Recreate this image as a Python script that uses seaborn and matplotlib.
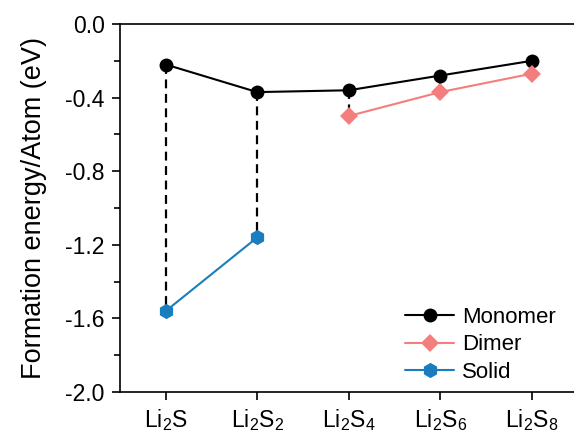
import numpy as np
import pandas as pd
import matplotlib
matplotlib.use('Agg')
import matplotlib.pyplot as plt
import seaborn as sns

# 数据
categories = ['Li2S', 'Li2S2', 'Li2S4', 'Li2S6', 'Li2S8']
tick_labels = [r'Li$_2$S', r'Li$_2$S$_2$', r'Li$_2$S$_4$', r'Li$_2$S$_6$', r'Li$_2$S$_8$']
y_ticks = [-2.0, -1.6, -1.2, -0.8, -0.4, 0.0]
monomer = [-0.22, -0.37, -0.36, -0.28, -0.20]
dimer = [np.nan, np.nan, -0.50, -0.37, -0.27]
solid = [-1.56, -1.16, np.nan, np.nan, np.nan]

sns.set_style("ticks", {'axes.edgecolor': 'black', 'xtick.color': 'black',
                        'ytick.color': 'black', 'text.color': 'black',
                        'axes.labelcolor': 'black'})
plt.rcParams['font.family'] = ['Liberation Sans', 'DejaVu Sans']
plt.rcParams['mathtext.default'] = 'regular'

pos = np.arange(len(categories))
df = pd.DataFrame({'x': pos, 'Monomer': monomer, 'Dimer': dimer, 'Solid': solid})

fig = plt.figure(figsize=(5.74, 4.37), dpi=100)
ax = fig.add_axes([0.209, 0.103, 0.797, 0.842])

# 虚线连接
for i in range(len(categories)):
    other = solid[i] if not np.isnan(solid[i]) else dimer[i]
    if not np.isnan(other):
        ax.plot([pos[i], pos[i]], [monomer[i], other], color='black',
                linestyle=(0, (4, 2.5)), linewidth=1.6, zorder=1)

styles = {
    'Monomer': dict(color='black', marker='o', markersize=10),
    'Dimer': dict(color='#F47E7E', marker='D', markersize=9.5),
    'Solid': dict(color='#1A7DBE', marker='h', markersize=11),
}
for name in ['Monomer', 'Dimer', 'Solid']:
    d = df[['x', name]].dropna()
    sns.lineplot(x='x', y=name, data=d, ax=ax, label=name, linewidth=1.5,
                 markeredgewidth=0, zorder=3, **styles[name])

ax.set_xlim(-0.5, 4.5)
ax.set_ylim(-2.0, 0.0)
ax.set_xticks(pos)
ax.set_xticklabels(tick_labels)
ax.set_yticks(y_ticks)
ax.set_yticklabels(['%.1f' % v for v in y_ticks])
ax.set_yticks([v + 0.2 for v in y_ticks[:-1]], minor=True)
ax.tick_params(axis='both', direction='out', labelsize=16.5, length=6, width=1.2, pad=5)
ax.tick_params(axis='y', which='minor', length=4, width=1.2)
ax.set_xlabel('')
ax.set_ylabel('Formation energy/Atom (eV)', fontsize=19.5, labelpad=13)
for s in ['left', 'bottom', 'top']:
    ax.spines[s].set_linewidth(1.2)
ax.spines['right'].set_visible(False)

leg = ax.legend(loc='lower right', frameon=False, fontsize=16, handlelength=2.2,
                handletextpad=0.35, labelspacing=0.3, borderaxespad=0.0,
                bbox_to_anchor=(0.972, 0.0))
for h, name in zip(leg.legend_handles, ['Monomer', 'Dimer', 'Solid']):
    h.set_markersize(styles[name]['markersize'])
    h.set_markeredgewidth(0)

plt.savefig('out.png', dpi=100)
